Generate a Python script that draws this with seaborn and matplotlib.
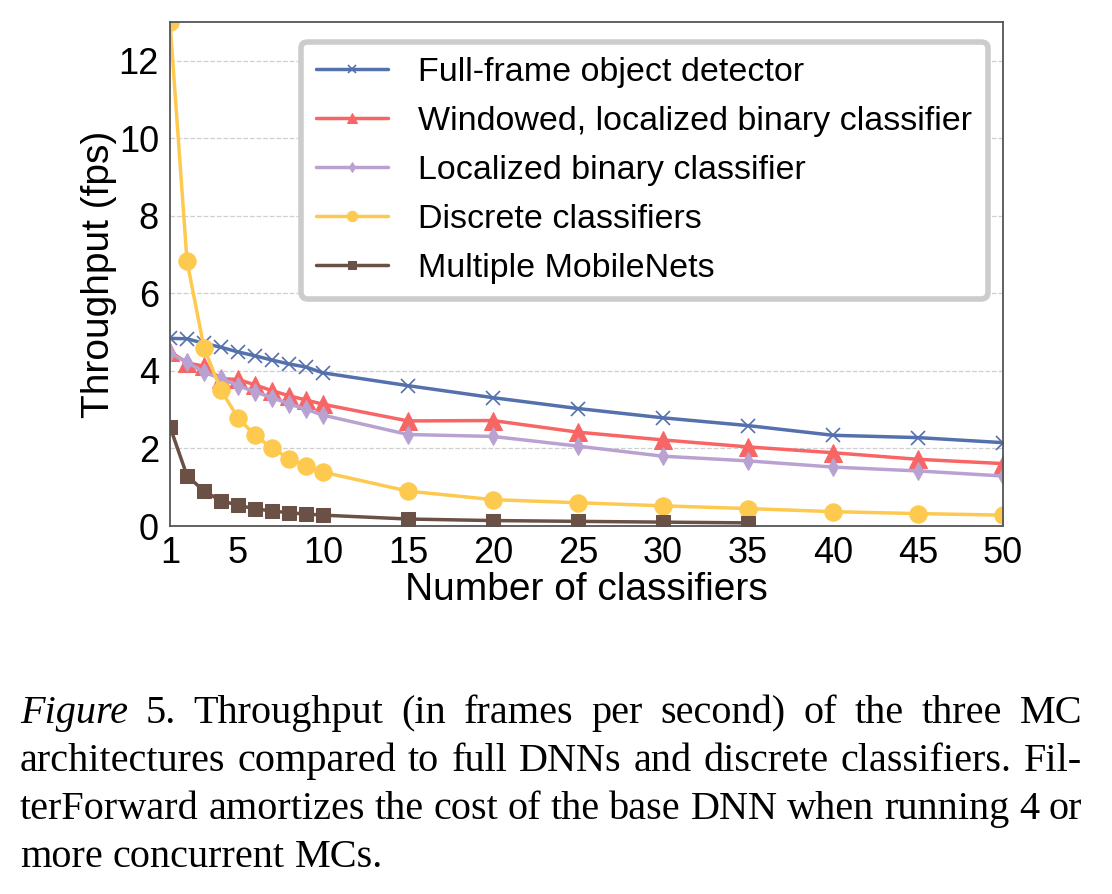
import matplotlib
matplotlib.use("Agg")
import matplotlib.pyplot as plt
import seaborn as sns

# data
n_classifiers = [1, 2, 3, 4, 5, 6, 7, 8, 9, 10, 15, 20, 25, 30, 35, 40, 45, 50]
full_frame = [4.84, 4.83, 4.71, 4.61, 4.49, 4.39, 4.28, 4.18, 4.10, 3.95,
              3.62, 3.31, 3.03, 2.79, 2.59, 2.34, 2.28, 2.15]
windowed = [4.50, 4.21, 4.12, 3.80, 3.78, 3.64, 3.49, 3.36, 3.25, 3.14,
            2.71, 2.72, 2.42, 2.22, 2.04, 1.89, 1.72, 1.61]
localized = [4.45, 4.23, 3.96, 3.81, 3.62, 3.46, 3.31, 3.15, 3.01, 2.86,
             2.36, 2.31, 2.06, 1.80, 1.68, 1.52, 1.42, 1.29]
discrete = [13.0, 6.83, 4.60, 3.50, 2.79, 2.34, 2.01, 1.74, 1.56, 1.39,
            0.90, 0.68, 0.60, 0.52, 0.45, 0.37, 0.32, 0.28]
mobilenets_x = [1, 2, 3, 4, 5, 6, 7, 8, 9, 10, 15, 20, 25, 30, 35]
mobilenets = [2.56, 1.30, 0.90, 0.65, 0.54, 0.44, 0.39, 0.34, 0.31, 0.28,
              0.18, 0.14, 0.12, 0.10, 0.08]

labels = ["Full-frame object detector", "Windowed, localized binary classifier",
          "Localized binary classifier", "Discrete classifiers", "Multiple MobileNets"]
colors = ["#5470ad", "#f86565", "#b9a2d2", "#fec94f", "#6b5046"]

xticks_major = [1, 5, 10, 15, 20, 25, 30, 35, 40, 45, 50]
xticks_minor = [2, 3, 4, 6, 7, 8, 9]
yticks = [0, 2, 4, 6, 8, 10, 12]

caption = [
    [("Figure", "italic"), ("5.", "normal"), ("Throughput", "normal"), ("(in", "normal"),
     ("frames", "normal"), ("per", "normal"), ("second)", "normal"), ("of", "normal"),
     ("the", "normal"), ("three", "normal"), ("MC", "normal")],
    [(w, "normal") for w in "architectures compared to full DNNs and discrete classifiers. Fil-".split()],
    [(w, "normal") for w in "terForward amortizes the cost of the base DNN when running 4 or".split()],
    [(w, "normal") for w in "more concurrent MCs.".split()],
]

sns.set_style("white")
plt.rcParams["font.family"] = ["Liberation Sans", "DejaVu Sans"]
plt.rcParams["text.color"] = "black"
plt.rcParams["axes.labelcolor"] = "black"
plt.rcParams["xtick.color"] = "black"
plt.rcParams["ytick.color"] = "black"

W, H = 1112, 894
fig = plt.figure(figsize=(W / 100, H / 100), dpi=100)
ax = fig.add_axes([170 / W, 1 - 526 / H, 833 / W, 504 / H])

series = [
    (n_classifiers, full_frame, "x", 10, 1.2),
    (n_classifiers, windowed, "^", 12.5, 0.75),
    (n_classifiers, localized, "d", 9, 0.75),
    (n_classifiers, discrete, "o", 12.5, 0.75),
    (mobilenets_x, mobilenets, "s", 10.5, 0.75),
]
for (xs, ys, mk, ms, mew), lab, c in zip(series, labels, colors):
    sns.lineplot(x=xs, y=ys, ax=ax, color=c, marker=mk, markersize=ms,
                 mec=c, mfc=c, mew=mew, lw=2.5, label=lab)

ax.set_xlim(1, 50)
ax.set_ylim(0, 13)
ax.set_xticks(xticks_major)
ax.set_xticks(xticks_minor, minor=True)
ax.set_yticks(yticks)
ax.tick_params(axis="both", which="major", labelsize=26, length=6, width=1,
               direction="out", color="#444444", pad=2)
ax.tick_params(axis="x", which="major", pad=1)
ax.tick_params(axis="x", which="minor", length=4, width=1, color="#444444")
ax.yaxis.grid(True, ls="--", color="#cfcfcf", lw=0.9)
ax.set_axisbelow(True)
for s in ax.spines.values():
    s.set_color("#555555")
    s.set_linewidth(1.3)

ax.set_xlabel("Number of classifiers", fontsize=28, labelpad=1)
ax.set_ylabel("Throughput (fps)", fontsize=28, labelpad=1)

leg = ax.legend(loc="upper right", bbox_to_anchor=(1.002, 0.995), fontsize=24.5,
                markerscale=0.6, frameon=True, fancybox=True, framealpha=1,
                edgecolor="#cccccc", labelspacing=0.53, borderpad=0.45,
                handlelength=2.1, handletextpad=0.9)
leg.get_frame().set_linewidth(4)

# caption, justified by hand
renderer = fig.canvas.get_renderer()
left, right = 20, 1082
baselines = [723, 771, 819, 867]
cap_kw = dict(family=["Liberation Serif", "DejaVu Serif"], fontsize=29, va="baseline", ha="left")
probe = fig.text(0, 0, "a a", **cap_kw)
w_pair = probe.get_window_extent(renderer).width
probe.set_text("aa")
space_w = w_pair - probe.get_window_extent(renderer).width
probe.remove()
for i, (line, base) in enumerate(zip(caption, baselines)):
    texts = [fig.text(0, 1 - base / H, w, style=st, **cap_kw) for w, st in line]
    widths = [t.get_window_extent(renderer).width for t in texts]
    if i < len(caption) - 1:
        gap = (right - left - sum(widths)) / (len(texts) - 1)
    else:
        gap = space_w
    x = left
    for t, w in zip(texts, widths):
        t.set_x(x / W)
        x += w + gap

fig.savefig("out.png", dpi=100)
